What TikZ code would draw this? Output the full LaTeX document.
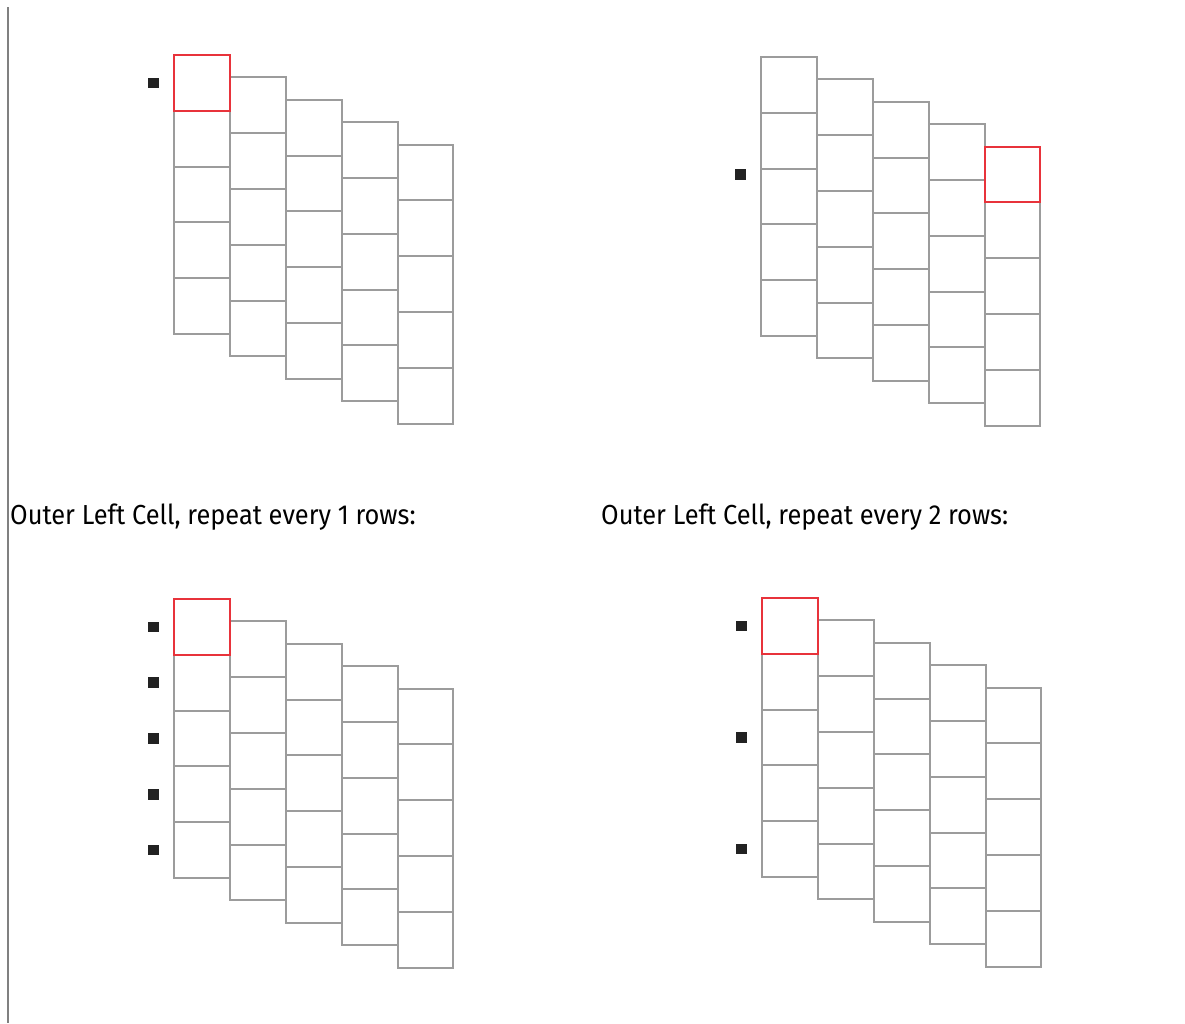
\documentclass[tikz,border=0pt]{standalone}
\usepackage{fontspec}
\newfontfamily\capfont[FakeStretch=0.924]{Fira Sans}
\usetikzlibrary{positioning}
\definecolor{cellgray}{HTML}{9C9C9C}
\definecolor{pickred}{HTML}{E8333B}
\definecolor{markblack}{HTML}{222222}
\definecolor{rulegray}{HTML}{808080}

\begin{document}
\begin{tikzpicture}[x=1pt,y=-1pt,
   cell/.style={draw=cellgray,line width=2pt,minimum size=55.8pt,inner sep=0pt,anchor=north west},
   pick/.style={cell,draw=pickred},
   marker/.style={fill=markblack,minimum size=10.5pt,inner sep=0pt},
   caption/.style={font=\capfont\fontsize{27.5}{32}\selectfont,anchor=base west,inner sep=0pt}]
  \useasboundingbox (0,0) rectangle (1185,1023);
  \draw[rulegray,line width=1.5pt] (8,7) coordinate (rtop) -- (8,1023) coordinate (rbot);
  % four staggered grids, five columns of five cells
  \foreach \pn/\px/\py in {a/173/54, b/760/56, c/173/598, d/761/597}{
    \foreach \c in {1,...,5}{
      \foreach \r in {1,...,5}{
        \node[cell] (\pn-\c-\r) at ({\px+(\c-1)*55.9},{\py+(\c-1)*22.4+(\r-1)*55.8}) {};
      }
    }
  }
  % picked cells
  \node[pick] (a-pick) at (a-1-1.north west) {};
  \node[pick] (b-pick) at (b-5-1.north west) {};
  \node[pick] (c-pick) at (c-1-1.north west) {};
  \node[pick] (d-pick) at (d-1-1.north west) {};
  % row markers
  \node[marker] (a-m1) at ([xshift=-19.5pt]a-1-1.west) {};
  \path ([xshift=-19.5pt]b-1-1.west) coordinate (b-mx);
  \node[marker] (b-m1) at (b-mx |- b-5-1.west) {};
  \foreach \r in {1,...,5}
    \node[marker] (c-m\r) at ([xshift=-19.5pt]c-1-\r.west) {};
  \foreach \r in {1,3,5}
    \node[marker] (d-m\r) at ([xshift=-19.5pt]d-1-\r.west) {};
  % captions
  \node[caption] (cap1) at (10,524) {Outer Left Cell, repeat every 1 rows:};
  \node[caption] (cap2) at (601,524) {Outer Left Cell, repeat every 2 rows:};
\end{tikzpicture}
\end{document}
